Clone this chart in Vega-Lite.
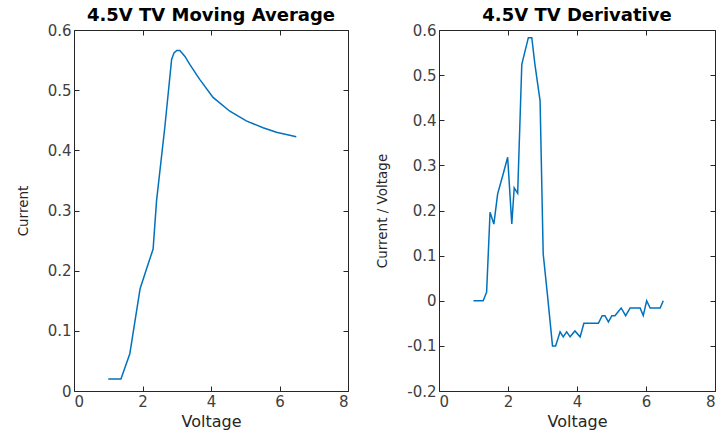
{
  "$schema": "https://vega.github.io/schema/vega-lite/v6.json",
  "background": "white",
  "padding": {"left": 15, "top": 6, "right": 5, "bottom": 5},
  "spacing": 26,
  "config": {
    "font": "DejaVu Sans",
    "view": {"stroke": "#262626", "strokeWidth": 1},
    "axis": {
      "domain": false, "grid": false,
      "tickColor": "#262626", "tickSize": -5,
      "labelColor": "#404040", "labelFontSize": 15, "labelFont": "DejaVu Sans", "labelPadding": 8,
      "titleColor": "#262626", "titleFontWeight": "normal", "titleFont": "DejaVu Sans", "titleFontSize": 16,
      "labelExpr": "toString(datum.value)"
    },
    "axisY": {"titleFontSize": 13.5, "titlePadding": 17},
    "title": {"fontSize": 18, "font": "DejaVu Sans", "fontWeight": "bold", "color": "#000000", "anchor": "middle", "offset": -2}
  },
  "datasets": {
    "avg": [
      {"v": 1.0, "c": 0.02}, {"v": 1.37, "c": 0.02}, {"v": 1.63, "c": 0.062}, {"v": 1.93, "c": 0.17},
      {"v": 2.1, "c": 0.2}, {"v": 2.31, "c": 0.236}, {"v": 2.41, "c": 0.316}, {"v": 2.65, "c": 0.4375},
      {"v": 2.85, "c": 0.551}, {"v": 2.92, "c": 0.562}, {"v": 3.0, "c": 0.566}, {"v": 3.09, "c": 0.566},
      {"v": 3.24, "c": 0.556}, {"v": 3.38, "c": 0.543}, {"v": 3.67, "c": 0.518}, {"v": 4.06, "c": 0.488},
      {"v": 4.55, "c": 0.465}, {"v": 5.03, "c": 0.449}, {"v": 5.52, "c": 0.4375}, {"v": 5.91, "c": 0.43},
      {"v": 6.49, "c": 0.4225}
    ],
    "der": [
      {"v": 1.0, "d": 0}, {"v": 1.28, "d": 0}, {"v": 1.38, "d": 0.019}, {"v": 1.48, "d": 0.196},
      {"v": 1.59, "d": 0.17}, {"v": 1.7, "d": 0.237}, {"v": 1.86, "d": 0.281}, {"v": 1.99, "d": 0.318},
      {"v": 2.11, "d": 0.17}, {"v": 2.18, "d": 0.25}, {"v": 2.28, "d": 0.238}, {"v": 2.4, "d": 0.524},
      {"v": 2.59, "d": 0.583}, {"v": 2.69, "d": 0.583}, {"v": 2.78, "d": 0.524}, {"v": 2.93, "d": 0.443},
      {"v": 3.02, "d": 0.104}, {"v": 3.15, "d": 0.008}, {"v": 3.29, "d": -0.1}, {"v": 3.38, "d": -0.1},
      {"v": 3.51, "d": -0.069}, {"v": 3.6, "d": -0.08}, {"v": 3.7, "d": -0.069}, {"v": 3.8, "d": -0.08},
      {"v": 3.94, "d": -0.067}, {"v": 4.09, "d": -0.08}, {"v": 4.2, "d": -0.05}, {"v": 4.62, "d": -0.05},
      {"v": 4.73, "d": -0.033}, {"v": 4.81, "d": -0.033}, {"v": 4.91, "d": -0.047}, {"v": 5.01, "d": -0.033},
      {"v": 5.1, "d": -0.033}, {"v": 5.28, "d": -0.016}, {"v": 5.41, "d": -0.033}, {"v": 5.54, "d": -0.016},
      {"v": 5.83, "d": -0.016}, {"v": 5.92, "d": -0.033}, {"v": 6.02, "d": 0}, {"v": 6.12, "d": -0.016},
      {"v": 6.41, "d": -0.016}, {"v": 6.5, "d": 0}
    ]
  },
  "hconcat": [
    {
      "title": "4.5V TV Moving Average",
      "width": 274, "height": 361,
      "data": {"name": "avg"},
      "resolve": {"axis": {"x": "independent", "y": "independent"}},
      "layer": [
        {
          "mark": {"type": "line", "color": "#0072BD", "strokeWidth": 1.5},
          "encoding": {
            "x": {"field": "v", "type": "quantitative", "scale": {"domain": [0, 8], "nice": false}, "axis": {"orient": "bottom", "title": "Voltage", "values": [0, 2, 4, 6, 8]}},
            "y": {"field": "c", "type": "quantitative", "scale": {"domain": [0, 0.6], "nice": false, "zero": false}, "axis": {"orient": "left", "title": "Current", "values": [0, 0.1, 0.2, 0.3, 0.4, 0.5, 0.6]}}
          }
        },
        {
          "mark": {"type": "line", "strokeOpacity": 0},
          "encoding": {
            "x": {"field": "v", "type": "quantitative", "axis": {"orient": "top", "labels": false, "title": null, "values": [0, 2, 4, 6, 8]}},
            "y": {"field": "c", "type": "quantitative", "axis": {"orient": "right", "labels": false, "title": null, "values": [0, 0.1, 0.2, 0.3, 0.4, 0.5, 0.6]}}
          }
        }
      ]
    },
    {
      "title": "4.5V TV Derivative",
      "width": 276, "height": 361,
      "data": {"name": "der"},
      "resolve": {"axis": {"x": "independent", "y": "independent"}},
      "layer": [
        {
          "mark": {"type": "line", "color": "#0072BD", "strokeWidth": 1.5},
          "encoding": {
            "x": {"field": "v", "type": "quantitative", "scale": {"domain": [0, 8], "nice": false}, "axis": {"orient": "bottom", "title": "Voltage", "values": [0, 2, 4, 6, 8]}},
            "y": {"field": "d", "type": "quantitative", "scale": {"domain": [-0.2, 0.6], "nice": false, "zero": false}, "axis": {"orient": "left", "title": "Current / Voltage", "values": [-0.2, -0.1, 0, 0.1, 0.2, 0.3, 0.4, 0.5, 0.6]}}
          }
        },
        {
          "mark": {"type": "line", "strokeOpacity": 0},
          "encoding": {
            "x": {"field": "v", "type": "quantitative", "axis": {"orient": "top", "labels": false, "title": null, "values": [0, 2, 4, 6, 8]}},
            "y": {"field": "d", "type": "quantitative", "axis": {"orient": "right", "labels": false, "title": null, "values": [-0.2, -0.1, 0, 0.1, 0.2, 0.3, 0.4, 0.5, 0.6]}}
          }
        }
      ]
    }
  ]
}
